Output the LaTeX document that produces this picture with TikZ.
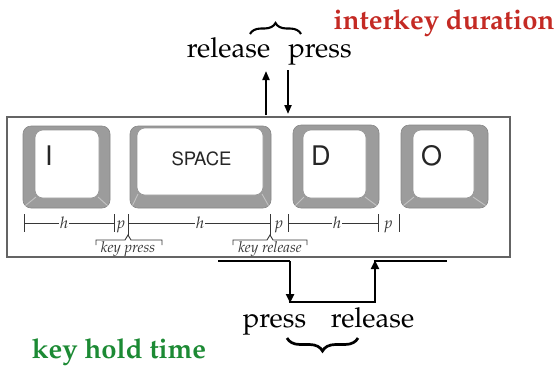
\documentclass[tikz,border=0pt]{standalone}
\usepackage[T1]{fontenc}
\usepackage{mathpazo}
\usepackage{helvet}
\usetikzlibrary{decorations.pathreplacing,arrows.meta}
\definecolor{keygray}{RGB}{156,156,156}
\definecolor{keyline}{RGB}{135,135,135}
\definecolor{faceline}{RGB}{150,150,150}
\definecolor{edgegray}{RGB}{195,195,195}
\definecolor{framegray}{RGB}{100,100,100}
\definecolor{tlgray}{RGB}{55,55,55}
\definecolor{durred}{RGB}{196,42,36}
\definecolor{holdgreen}{RGB}{28,138,52}
\newcommand\keycap[8]{%
  \path[keyouter] (#1,#2) rectangle (#3,#4);
  \draw[keyedge] (#5+1,#8-1) -- (#1+2.5,#4-2.5);
  \draw[keyedge] (#7-1,#8-1) -- (#3-2.5,#4-2.5);
  \path[keyface] (#5,#6) rectangle (#7,#8);
}
\newcommand\tbracket[3]{%
  \draw[tl] (#1,245) -- (#1,240) -- (#3-3,240) -- (#3,235) -- (#3+3,240) -- (#2,240) -- (#2,245);
}
\begin{document}
\begin{tikzpicture}[x=1pt,y=-1pt,
  big/.style={font=\fontsize{27.5}{30}\selectfont, inner sep=0pt},
  bigbold/.style={font=\fontsize{27.5}{30}\selectfont\bfseries, inner sep=0pt},
  keyouter/.style={fill=keygray, draw=keyline, line width=0.6pt, rounded corners=8pt},
  keyface/.style={fill=white, draw=faceline, line width=0.6pt, rounded corners=8pt},
  keyedge/.style={draw=edgegray, line width=0.9pt},
  keylabel/.style={font=\fontsize{27}{30}\fontfamily{phv}\selectfont, inner sep=0pt, text=black!85},
  spacelabel/.style={font=\fontsize{18.5}{20}\fontfamily{phv}\selectfont, inner sep=0pt, text=black!85},
  tl/.style={draw=tlgray, line width=0.9pt},
  tlabel/.style={font=\fontsize{16}{18}\selectfont\itshape, text=tlgray, inner sep=1pt},
  small/.style={font=\fontsize{15}{17}\selectfont\itshape, text=tlgray, inner sep=0pt},
  arr/.style={line width=2pt, -{Triangle[length=9pt,width=7pt]}},
  wave/.style={line width=2.8pt},
  wavearr/.style={line width=2.8pt, -{Triangle[length=9pt,width=8pt]}},
  brc/.style={line width=2.1pt, decorate, decoration={brace, amplitude=11pt}},
  brcb/.style={line width=2.7pt, decorate, decoration={brace, amplitude=13pt}}
]
\useasboundingbox (0,0) rectangle (559,365);

% frame
\draw[framegray, line width=1.2pt] (7,117) rectangle (510,257);

% keys
\keycap{23}{126}{110}{208}{35}{130}{99}{198}
\keycap{130}{126}{271}{208}{137}{128}{263}{195}
\keycap{293}{125}{379}{208}{303}{130}{366}{198}
\keycap{401}{125}{488}{208}{413}{130}{474}{198}
\node[keylabel, anchor=base west] (kI) at (45,165) {I};
\node[spacelabel, anchor=base] (kS) at (201.5,165) {SPACE};
\node[keylabel, anchor=base west] (kD) at (311,165) {D};
\node[keylabel, anchor=base west] (kO) at (421,165) {O};

% timeline
\foreach \n/\x in {1/24,2/114,3/128,4/270,5/288,6/378,7/399} {
  \coordinate (t\n) at (\x,223);
  \draw[tl] (\x,214) -- (\x,232);
}
\draw[tl] (t1) -- (t2);
\draw[tl] (t3) -- (t4);
\draw[tl] (t5) -- (t6);
\node[tlabel, fill=white] (h1) at (64,223) {h};
\node[tlabel, fill=white] (h2) at (200,223) {h};
\node[tlabel, fill=white] (h3) at (337,223) {h};
\node[tlabel, anchor=base] (p1) at (121,228) {p};
\node[tlabel, anchor=base] (p2) at (279,228) {p};
\node[tlabel, anchor=base] (p3) at (388.5,228) {p};

% key press / key release brackets
\tbracket{96}{162}{128}
\tbracket{233}{307}{270}
\draw[tl] (128,232) -- (128,236);
\draw[tl] (270,232) -- (270,236);
\node[small, anchor=base] (kp) at (128,252) {key press};
\node[small, anchor=base] (kr) at (270,252) {key release};

% top: release / press
\node[big, anchor=base] (rel1) at (228.5,57) {release};
\node[big, anchor=base] (pr1) at (320,57) {press};
\draw[brc] (250,34) -- (301,34);
\node[bigbold, anchor=base, text=durred] (idur) at (444,29) {interkey duration};
\coordinate (upbase) at (266,115);
\coordinate (uptip) at (266,71);
\coordinate (dntop) at (288,70);
\coordinate (dntip) at (288,114);
\draw[arr] (upbase) -- (uptip);
\draw[arr] (dntop) -- (dntip);

% bottom: square wave
\coordinate (w1) at (218,261);
\coordinate (w2) at (290,261);
\coordinate (w3) at (290,303);
\coordinate (w4) at (375,302);
\coordinate (w5) at (375,260);
\coordinate (w6) at (447,261);
\draw[wave] (w1) -- (w2);
\draw[wavearr] (w2) -- (w3);
\draw[wave] (288.6,302) -- (376.4,302);
\draw[wavearr] (w4) -- (w5);
\draw[wave] (373.6,261) -- (w6);

\node[big, anchor=base] (pr2) at (274.5,327) {press};
\node[big, anchor=base] (rel2) at (372.5,327) {release};
\draw[brcb] (358,338) -- (287,338);
\node[bigbold, anchor=base, text=holdgreen] (hold) at (119,358) {key hold time};
\end{tikzpicture}
\end{document}
